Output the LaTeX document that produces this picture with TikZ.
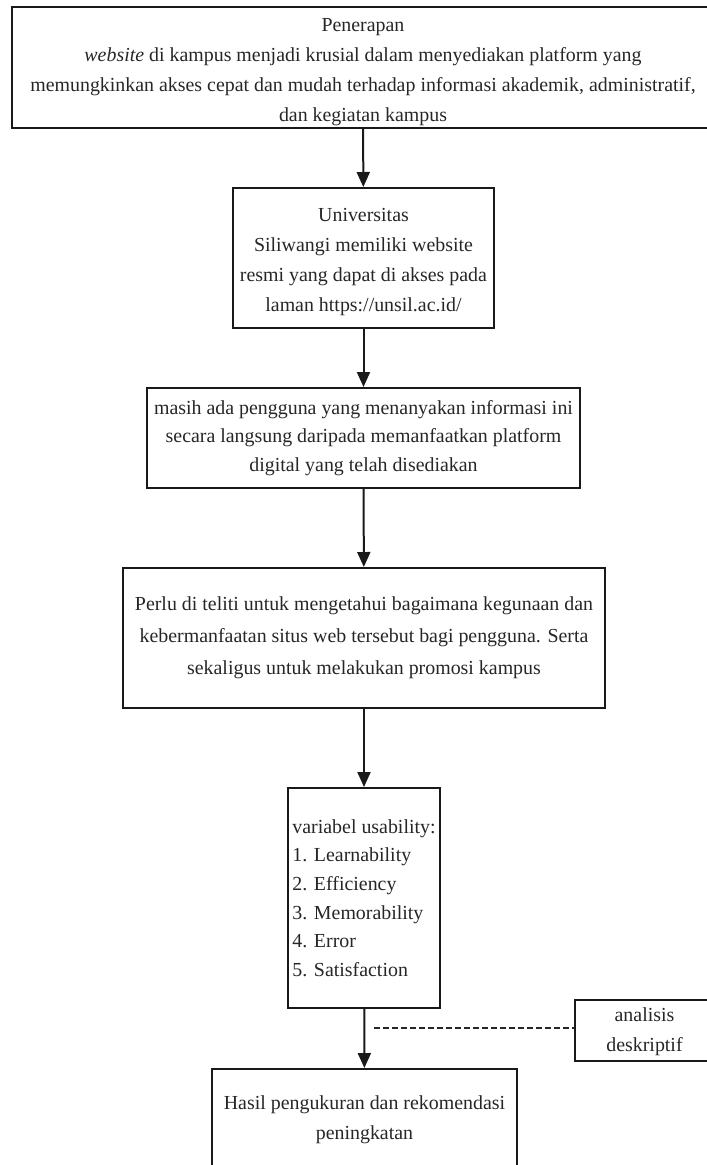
\documentclass[tikz,border=0pt]{standalone}
\usepackage{fontspec}
\setmainfont{Liberation Serif}
\usetikzlibrary{arrows.meta}
\newcommand\myfnt[1]{\fontsize{19.9}{#1}\selectfont}
\begin{document}
\begin{tikzpicture}[x=1pt,y=-1pt,
  box/.style={draw=black!90, line width=2pt, rectangle, inner sep=0pt, align=center, text=black!85},
  arr/.style={line width=2pt, draw=black!90, -{Triangle[width=13pt,length=15pt]}},
  dashline/.style={line width=1.5pt, draw=black!85, dash pattern=on 6pt off 3pt}]
\useasboundingbox (0,0) rectangle (707,1165);
\clip (0,0) rectangle (707,1165);
\node[box, minimum width=702pt, minimum height=121pt, font=\myfnt{30}] (b1) at (363,67.5)
  {\rule{0pt}{22pt}Penerapan\\ \textit{website} di kampus menjadi krusial dalam menyediakan platform yang\\ memungkinkan akses cepat dan mudah terhadap informasi akademik, administratif,\\ dan kegiatan kampus};
\node[box, minimum width=261pt, minimum height=140pt, font=\myfnt{30}] (b2) at (363.5,258)
  {\rule{0pt}{21pt}Universitas\\ Siliwangi memiliki website\\ resmi yang dapat di akses pada\\ laman https://unsil.ac.id/};
\node[box, minimum width=433pt, minimum height=100pt, font=\myfnt{28.5}] (b3) at (363.5,438)
  {masih ada pengguna yang menanyakan informasi ini\\ secara langsung daripada memanfaatkan platform\\ digital yang telah disediakan};
\node[box, minimum width=482pt, minimum height=140pt, font=\myfnt{32}] (b4) at (364,638)
  {Perlu di teliti untuk mengetahui bagaimana kegunaan dan\\ kebermanfaatan situs web tersebut bagi pengguna. Serta\\ sekaligus untuk melakukan promosi kampus};
\node[box, align=left, minimum width=152pt, minimum height=220pt, font=\myfnt{28.6}] (b5) at (364,898)
  {variabel usability:\\1. Learnability\\2. Efficiency\\3. Memorability\\4. Error\\5. Satisfaction};
\node[box, minimum width=305pt, minimum height=102pt, font=\myfnt{30}] (b6) at (364.5,1120)
  {Hasil pengukuran dan rekomendasi\\ peningkatan};
\node[box, anchor=west, minimum height=61pt, font=\myfnt{30}] (an) at (574,1030.5)
  {\makebox[139pt]{\begin{tabular}{@{}c@{}}analisis\\ deskriptif\end{tabular}}\hspace*{30pt}};
\coordinate (d0) at (374,1028);
\draw[arr] (b1) -- (b2);
\draw[arr] (b2) -- (b3);
\draw[arr] (b3) -- (b4);
\draw[arr] (b4) -- (b5);
\draw[arr] (b5) -- (b6);
\draw[dashline] (d0) -- (d0 -| an.west);
\end{tikzpicture}
\end{document}
